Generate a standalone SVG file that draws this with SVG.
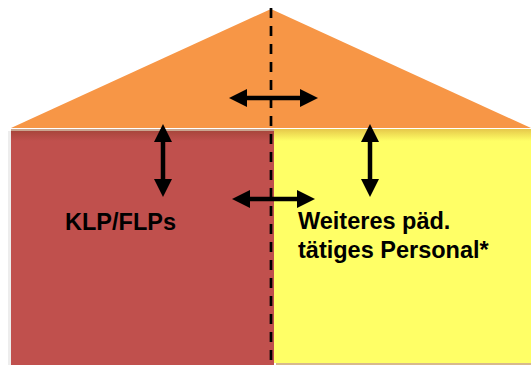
<svg xmlns="http://www.w3.org/2000/svg" width="531" height="365" viewBox="0 0 531 365">
  <style>
    .lbl { font-family: "Liberation Sans", Arial, sans-serif; font-weight: bold; font-size: 23.5px; fill: #000; }
    .arrow { stroke: #000; stroke-width: 4.5; fill: none; marker-start: url(#head); marker-end: url(#head); }
    .divider { stroke: #000; stroke-width: 2.7; stroke-dasharray: 10 8; fill: none; }
  </style>
  <defs>
    <marker id="head" viewBox="0 0 18 18" markerWidth="18" markerHeight="18" markerUnits="userSpaceOnUse" refX="8" refY="9" orient="auto-start-reverse">
      <path d="M0,0 L18,9 L0,18 z" fill="#000"/>
    </marker>
    <!-- soft shade cast by the roof onto the walls -->
    <linearGradient id="shadeRed" x1="0" y1="0" x2="0" y2="1">
      <stop offset="0" stop-color="#A8463C"/>
      <stop offset="1" stop-color="#C0504D"/>
    </linearGradient>
    <linearGradient id="shadeYellow" x1="0" y1="0" x2="0" y2="1">
      <stop offset="0" stop-color="#E6C84A"/>
      <stop offset="1" stop-color="#FFFF66"/>
    </linearGradient>
  </defs>

  <rect width="531" height="365" fill="#FFFFFF"/>

  <!-- roof -->
  <g id="roof">
    <polygon points="11,128 271,9 531,128" fill="#F79646"/>
  </g>

  <!-- left wall -->
  <g id="wall-left">
    <rect x="8" y="131" width="3" height="234" fill="#EDEDED"/>
    <rect x="11" y="129" width="263" height="236" fill="#C0504D"/>
    <rect x="11" y="129" width="263" height="2" fill="#C9A58F"/>
    <rect x="11" y="131" width="263" height="10" fill="url(#shadeRed)"/>
    <text class="lbl" x="65" y="230">KLP/FLPs</text>
  </g>

  <!-- right wall -->
  <g id="wall-right">
    <rect x="276" y="361" width="255" height="4" fill="#D8B98C"/>
    <rect x="274" y="129" width="257" height="234" fill="#FFFF66"/>
    <rect x="274" y="129" width="257" height="12" fill="url(#shadeYellow)"/>
    <text class="lbl" x="298" y="229">Weiteres päd.</text>
    <text class="lbl" x="298" y="258">tätiges Personal*</text>
  </g>

  <!-- dividing line and double-headed arrows -->
  <g id="connectors">
    <line class="divider" x1="271" y1="8" x2="271" y2="365"/>
    <line class="arrow" x1="239" y1="98" x2="308" y2="98"/>
    <line class="arrow" x1="242" y1="199" x2="305" y2="199"/>
    <line class="arrow" x1="163" y1="134" x2="163" y2="187"/>
    <line class="arrow" x1="370" y1="134" x2="370" y2="187"/>
  </g>
</svg>
